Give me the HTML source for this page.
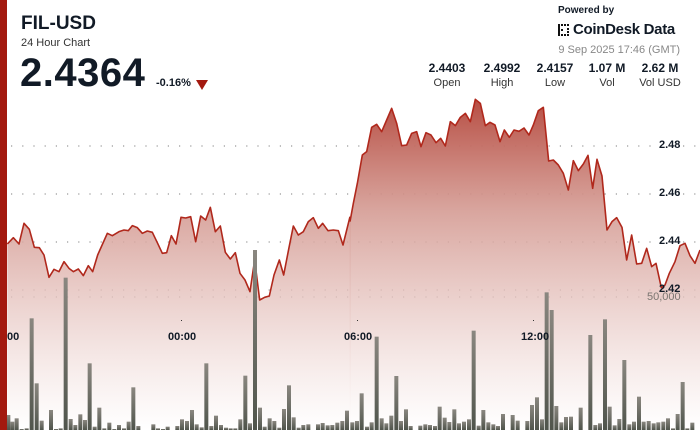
<!DOCTYPE html>
<html><head><meta charset="utf-8"><style>
html,body{margin:0;padding:0;background:#fff;}
body{width:700px;height:430px;overflow:hidden;position:relative;font-family:"Liberation Sans",sans-serif;color:#111a26;}
.t{position:absolute;white-space:nowrap;}
</style></head><body>
<svg width="700" height="430" style="position:absolute;left:0;top:0">
<defs>
<linearGradient id="ag" gradientUnits="userSpaceOnUse" x1="0" y1="0" x2="0" y2="1020">
<stop offset="0" stop-color="#b4463b"/><stop offset="0.35" stop-color="#d49a92" stop-opacity="0.9"/><stop offset="1" stop-color="#ffffff" stop-opacity="0.6"/>
</linearGradient>
<linearGradient id="bg" x1="0" y1="0" x2="0" y2="1">
<stop offset="0" stop-color="#8a8780"/><stop offset="1" stop-color="#4f544b"/>
</linearGradient>
</defs>
<g stroke="#999" stroke-width="1.2" stroke-dasharray="1.2 10">
<line x1="11" y1="146" x2="700" y2="146"/><line x1="11" y1="194" x2="700" y2="194"/>
<line x1="11" y1="242" x2="700" y2="242"/><line x1="11" y1="290" x2="700" y2="290"/>
<line x1="11" y1="297" x2="700" y2="297"/>
</g>
<g transform="translate(0,90) scale(0.33333)">
<path fill="url(#ag)" d="M22,1020 L22,462 40,443 57,462 72,400 88,418 103,472 118,473 132,495 147,562 162,538 177,545 192,515 207,535 220,545 235,537 250,557 265,527 278,545 293,495 322,430 337,437 357,425 372,420 385,422 397,407 412,413 427,430 442,423 457,427 472,458 487,490 500,488 514,437 528,462 543,382 557,384 572,380 587,455 602,378 617,390 631,352 646,425 661,408 676,487 691,507 706,488 720,550 735,570 750,605 764,510 779,630 794,622 808,618 822,555 838,510 851,555 866,478 880,408 895,435 910,425 925,395 940,383 955,415 968,400 984,422 1000,420 1015,422 1029,465 1052,380 L1052,1020 Z"/>
<polyline fill="none" stroke="#b0281c" stroke-width="1.6" vector-effect="non-scaling-stroke" stroke-linejoin="round" points="22,462 40,443 57,462 72,400 88,418 103,472 118,473 132,495 147,562 162,538 177,545 192,515 207,535 220,545 235,537 250,557 265,527 278,545 293,495 322,430 337,437 357,425 372,420 385,422 397,407 412,413 427,430 442,423 457,427 472,458 487,490 500,488 514,437 528,462 543,382 557,384 572,380 587,455 602,378 617,390 631,352 646,425 661,408 676,487 691,507 706,488 720,550 735,570 750,605 764,510 779,630 794,622 808,618 822,555 838,510 851,555 866,478 880,408 895,435 910,425 925,395 940,383 955,415 968,400 984,422 1000,420 1015,422 1029,465 1050,380"/>
</g>
<g transform="translate(350,90) scale(0.33333)">
<path fill="url(#ag)" d="M-1,1020 L-1,395 10,340 22,280 37,195 50,185 65,112 80,103 95,125 110,90 125,55 140,100 155,167 170,165 185,130 200,125 213,170 228,128 243,135 258,158 272,145 286,168 301,95 316,107 331,82 346,70 361,95 376,28 391,40 406,107 420,97 435,105 450,155 463,120 478,142 492,120 507,124 522,114 537,135 550,105 565,62 580,52 596,213 610,210 625,225 640,250 655,300 670,212 685,242 700,222 714,196 728,295 741,208 756,258 771,420 786,395 800,383 816,412 830,510 845,435 860,522 875,520 890,475 905,530 918,520 934,593 945,585 958,550 975,515 990,467 1005,460 1020,497 1035,520 1050,480 L1050,1020 Z"/>
<polyline fill="none" stroke="#b0281c" stroke-width="1.6" vector-effect="non-scaling-stroke" stroke-linejoin="round" points="0,395 10,340 22,280 37,195 50,185 65,112 80,103 95,125 110,90 125,55 140,100 155,167 170,165 185,130 200,125 213,170 228,128 243,135 258,158 272,145 286,168 301,95 316,107 331,82 346,70 361,95 376,28 391,40 406,107 420,97 435,105 450,155 463,120 478,142 492,120 507,124 522,114 537,135 550,105 565,62 580,52 596,213 610,210 625,225 640,250 655,300 670,212 685,242 700,222 714,196 728,295 741,208 756,258 771,420 786,395 800,383 816,412 830,510 845,435 860,522 875,520 890,475 905,530 918,520 934,593 945,585 958,550 975,515 990,467 1005,460 1020,497 1035,520 1050,480"/>
</g>
<g id="bl" transform="translate(0,90) scale(0.33333)" fill="url(#bg)"></g>
<g id="br" transform="translate(350,90) scale(0.33333)" fill="url(#bg)"></g>
<rect x="0" y="0" width="7" height="430" fill="#a3190f"/>
<rect x="181" y="320" width="1" height="1" fill="#333"/>
<rect x="357" y="320" width="1" height="1" fill="#333"/>
<rect x="533" y="320" width="1" height="1" fill="#333"/>
<g fill="#111">
<rect x="558" y="24" width="2" height="12"/><rect x="561" y="24" width="2" height="2"/><rect x="564" y="24" width="2" height="2"/>
<rect x="561" y="29" width="2" height="2"/><rect x="561" y="34" width="2" height="2"/><rect x="564" y="34" width="2" height="2"/>
<rect x="567" y="24" width="2" height="2"/><rect x="567" y="34" width="2" height="2"/><rect x="567" y="28" width="2" height="2"/><rect x="567" y="31" width="2" height="2"/>
</g>
</svg>
<script>
function bars(id,data){var g=document.getElementById(id),s='';for(var i=0;i<data.length;i+=2){var x=data[i],y=data[i+1];s+='<rect x="'+(x-6)+'" y="'+y+'" width="12" height="'+(1020-y)+'"/>';}g.innerHTML=s;}
bars('bl',[25,975,37,995,50,985,65,1017,80,1015,95,685,110,880,125,992,153,960,168,1017,182,1015,197,563,212,987,226,1005,241,973,255,990,269,820,284,1010,298,953,313,1015,328,998,343,1017,357,1005,372,1015,386,995,400,892,415,1008,460,1003,474,1015,489,1017,503,1010,532,1008,546,988,561,993,576,960,590,1003,605,1012,619,820,634,1008,648,977,663,1005,678,1013,692,1015,706,1015,721,988,736,857,750,1000,765,480,780,953,794,1010,809,985,823,993,838,1013,852,957,867,886,881,982,896,1013,910,1005,925,1003,954,1003,968,999,983,1006,997,1005,1012,998,1027,993,1041,962]);
bars('br',[7,997,21,993,35,910,51,1010,65,997,80,740,95,985,109,1000,124,977,139,858,153,993,168,958,182,1008,211,1007,226,1003,240,1005,255,1008,269,950,284,983,298,996,313,958,327,1000,342,995,357,988,371,722,386,1007,400,960,415,997,430,1003,444,1008,459,972,488,975,503,992,532,993,546,945,561,922,576,988,590,607,605,660,619,948,634,997,648,981,663,980,692,953,721,735,736,1005,750,1000,765,688,779,950,794,1006,808,987,823,810,838,1003,852,995,867,920,881,995,896,993,911,1000,925,997,940,995,954,985,969,1015,983,972,998,876,1012,1015,1027,998]);
</script>
<div class="t" style="left:21px;top:13px;font-size:19px;font-weight:bold;">FIL-USD</div>
<div class="t" style="left:21px;top:37px;font-size:11px;color:#333;">24 Hour Chart</div>
<div class="t" style="left:20px;top:51px;font-size:40px;font-weight:bold;letter-spacing:0.5px;">2.4364</div>
<div class="t" style="left:156px;top:77px;font-size:11px;font-weight:bold;">-0.16%</div>
<div class="t" style="left:196px;top:80px;width:0;height:0;border-left:6px solid transparent;border-right:6px solid transparent;border-top:10px solid #a3190f;"></div>
<div class="t" style="left:558px;top:5px;font-size:10px;font-weight:bold;">Powered by</div>
<div class="t" style="left:573px;top:21px;font-size:15px;font-weight:bold;letter-spacing:-0.3px;">CoinDesk Data</div>
<div class="t" style="right:20px;top:44px;font-size:11px;color:#888;">9 Sep 2025 17:46 (GMT)</div>
<div class="t" style="left:427px;top:61px;width:40px;text-align:center;font-size:12px;font-weight:bold;">2.4403</div>
<div class="t" style="left:427px;top:77px;width:40px;text-align:center;font-size:11px;color:#333;">Open</div>
<div class="t" style="left:482px;top:61px;width:40px;text-align:center;font-size:12px;font-weight:bold;">2.4992</div>
<div class="t" style="left:482px;top:77px;width:40px;text-align:center;font-size:11px;color:#333;">High</div>
<div class="t" style="left:535px;top:61px;width:40px;text-align:center;font-size:12px;font-weight:bold;">2.4157</div>
<div class="t" style="left:535px;top:77px;width:40px;text-align:center;font-size:11px;color:#333;">Low</div>
<div class="t" style="left:585px;top:61px;width:44px;text-align:center;font-size:12px;font-weight:bold;">1.07 M</div>
<div class="t" style="left:585px;top:77px;width:44px;text-align:center;font-size:11px;color:#333;">Vol</div>
<div class="t" style="left:636px;top:61px;width:48px;text-align:center;font-size:12px;font-weight:bold;">2.62 M</div>
<div class="t" style="left:636px;top:77px;width:48px;text-align:center;font-size:11px;color:#333;">Vol USD</div>
<div class="t" style="left:659px;top:139px;font-size:11px;font-weight:bold;">2.48</div>
<div class="t" style="left:659px;top:187px;font-size:11px;font-weight:bold;">2.46</div>
<div class="t" style="left:659px;top:235px;font-size:11px;font-weight:bold;">2.44</div>
<div class="t" style="left:659px;top:283px;font-size:11px;font-weight:bold;">2.42</div>
<div class="t" style="left:647px;top:291px;font-size:11px;color:#7a7570;">50,000</div>
<div class="t" style="left:7px;top:331px;font-size:11px;font-weight:bold;">00</div>
<div class="t" style="left:168px;top:331px;font-size:11px;font-weight:bold;">00:00</div>
<div class="t" style="left:344px;top:331px;font-size:11px;font-weight:bold;">06:00</div>
<div class="t" style="left:521px;top:331px;font-size:11px;font-weight:bold;">12:00</div>
</body></html>
